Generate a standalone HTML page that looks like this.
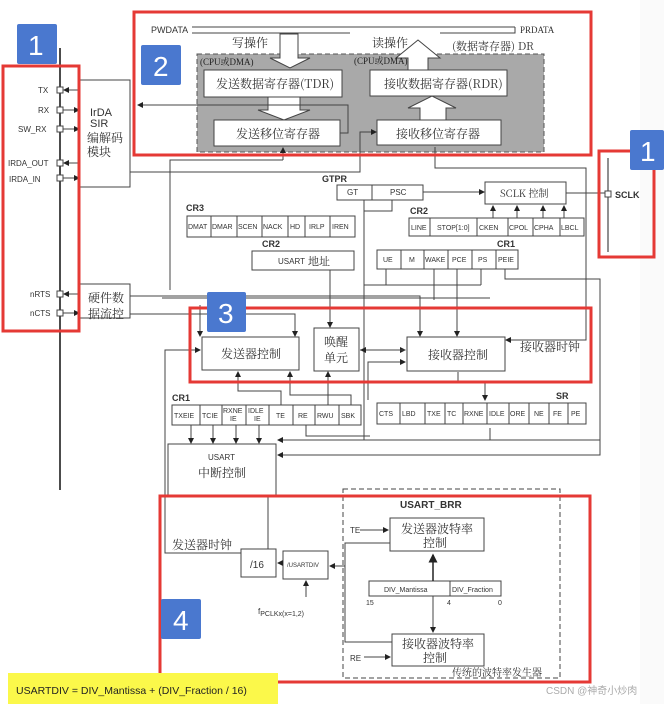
<!DOCTYPE html>
<html><head><meta charset="utf-8"><style>
html,body{margin:0;padding:0;background:#fff;}
svg{display:block;}
text{font-family:"Liberation Sans","Noto Sans CJK SC",sans-serif;fill:#333;}
.s{font-size:8px;}
.m{font-size:11px;}
.c{font-family:"Noto Serif CJK SC","Liberation Serif",serif;font-size:12px;fill:#333;}
.b{fill:#fff;stroke:#444;stroke-width:1;}
.l{stroke:#444;stroke-width:1;fill:none;}
.red{fill:none;stroke:#e53935;stroke-width:3;}
.badge{fill:#4a78cf;}
.bt{font-size:28px;fill:#fff;}
</style></head><body>
<svg width="664" height="704" viewBox="0 0 664 704" xmlns="http://www.w3.org/2000/svg">
<defs><marker id="a" markerWidth="6" markerHeight="6" refX="5" refY="3" orient="auto"><path d="M0,0 L6,3 L0,6z" fill="#222"/></marker></defs>
<rect x="0" y="0" width="664" height="704" fill="#fff"/>
<rect x="640" y="0" width="24" height="704" fill="#fafafa"/>

<!-- pin bus -->
<line x1="60" y1="48" x2="60" y2="490" stroke="#111" stroke-width="1.5"/>
<g class="s">
<text x="38" y="93">TX</text><text x="38" y="113">RX</text><text x="18" y="132">SW_RX</text>
<text x="8" y="166">IRDA_OUT</text><text x="9" y="182">IRDA_IN</text>
<text x="30" y="297">nRTS</text><text x="30" y="316">nCTS</text>
</g>
<g class="b"><rect x="57" y="87" width="6" height="6"/><rect x="57" y="107" width="6" height="6"/><rect x="57" y="126" width="6" height="6"/><rect x="57" y="160" width="6" height="6"/><rect x="57" y="175" width="6" height="6"/><rect x="57" y="291" width="6" height="6"/><rect x="57" y="310" width="6" height="6"/></g>
<g class="l"><line x1="79" y1="90" x2="64" y2="90" marker-end="url(#a)"/><line x1="63" y1="110" x2="79" y2="110" marker-end="url(#a)"/><line x1="63" y1="129" x2="79" y2="129" marker-end="url(#a)"/><line x1="79" y1="163" x2="64" y2="163" marker-end="url(#a)"/><line x1="63" y1="178" x2="79" y2="178" marker-end="url(#a)"/><line x1="79" y1="294" x2="64" y2="294" marker-end="url(#a)"/><line x1="63" y1="313" x2="79" y2="313" marker-end="url(#a)"/></g>
<path class="l" d="M79,80 H130 V187 H79"/>
<text class="m" x="90" y="116">IrDA</text><text class="m" x="90" y="127">SIR</text>
<text class="c" x="87" y="142">编解码</text><text class="c" x="87" y="156">模块</text>
<path class="l" d="M79,284 H130 V318 H79"/>
<text class="c" x="88" y="302">硬件数</text><text class="c" x="88" y="318">据流控</text>

<!-- top data section -->
<rect x="197" y="54" width="347" height="98" fill="#a9a9a9" stroke="#555" stroke-dasharray="5,3"/>
<text class="s" x="151" y="33" style="font-size:9px">PWDATA</text>
<text x="520" y="33" style="font-size:9px;font-family:'Liberation Serif',serif">PRDATA</text>
<path class="l" d="M192,27 H515 M192,33 H350"/>
<path class="l" d="M515,27 V33 H440"/>
<path d="M280,34 V58 H270 L290,68 L310,58 H298 V34 z" fill="#fff" stroke="#444"/>
<path d="M408,70 V58 H396 L418,40 L440,58 H428 V70 z" fill="#fff" stroke="#444"/>
<text class="c" x="232" y="47">写操作</text>
<text class="c" x="372" y="47">读操作</text>
<text class="c" x="452" y="50" style="font-size:11px">(数据寄存器) DR</text>
<text x="200" y="65" style="font-size:9px;font-family:'Liberation Serif','Noto Serif CJK SC',serif;fill:#222">(CPU或DMA)</text>
<text x="354" y="64" style="font-size:9px;font-family:'Liberation Serif','Noto Serif CJK SC',serif;fill:#222">(CPU或DMA)</text>
<rect class="b" x="204" y="70" width="138" height="27"/>
<text class="c" x="216" y="88">发送数据寄存器(TDR)</text>
<rect class="b" x="370" y="70" width="137" height="26"/>
<text class="c" x="384" y="88">接收数据寄存器(RDR)</text>
<path d="M268,97 V110 H258 L284,120 L310,110 H300 V97 z" fill="#fff" stroke="#444"/>
<path d="M420,120 V108 H408 L432,96 L456,108 H446 V120 z" fill="#fff" stroke="#444"/>
<rect class="b" x="214" y="120" width="126" height="26"/>
<text class="c" x="236" y="138">发送移位寄存器</text>
<rect class="b" x="377" y="120" width="124" height="25"/>
<text class="c" x="396" y="138">接收移位寄存器</text>
<path class="l" d="M340,133 H348 V105 H138" marker-end="url(#a)"/>
<path class="l" d="M130,172 H360 V132 H376" marker-end="url(#a)"/>
<path class="l" d="M283,160 V148" marker-end="url(#a)"/>
<path class="l" d="M170,290 V160 H283"/>
<path class="l" d="M435,147 V168 H586 V340 H506" marker-end="url(#a)"/>

<!-- GTPR -->
<text x="322" y="182" style="font-size:9px;font-weight:bold">GTPR</text>
<rect class="b" x="337" y="185" width="35" height="15"/><rect class="b" x="372" y="185" width="51" height="15"/>
<text class="s" x="347" y="195">GT</text><text class="s" x="390" y="195">PSC</text>
<path class="l" d="M423,192 H484" marker-end="url(#a)"/>
<rect class="b" x="485" y="182" width="81" height="22"/>
<text class="c" x="500" y="197" style="font-size:10px">SCLK 控制</text>
<path class="l" d="M566,193 H605"/>
<path class="l" d="M364,200 V211 H392 V200 M364,211 V440"/>

<!-- SCLK -->
<line x1="608" y1="158" x2="608" y2="252" stroke="#222"/>
<rect class="b" x="605" y="191" width="6" height="6"/>
<text x="615" y="198" style="font-size:9px;font-weight:bold">SCLK</text>

<!-- CR3 -->
<text x="186" y="211" style="font-size:9px;font-weight:bold">CR3</text>
<g class="b"><rect x="187" y="216" width="24" height="21"/><rect x="211" y="216" width="26" height="21"/><rect x="237" y="216" width="25" height="21"/><rect x="262" y="216" width="26" height="21"/><rect x="288" y="216" width="17" height="21"/><rect x="305" y="216" width="25" height="21"/><rect x="330" y="216" width="25" height="21"/></g>
<g style="font-size:7px"><text x="188" y="229">DMAT</text><text x="212" y="229">DMAR</text><text x="238" y="229">SCEN</text><text x="263" y="229">NACK</text><text x="290" y="229">HD</text><text x="309" y="229">IRLP</text><text x="332" y="229">IREN</text></g>

<!-- CR2 right -->
<text x="410" y="214" style="font-size:9px;font-weight:bold">CR2</text>
<g class="b"><rect x="409" y="218" width="21" height="18"/><rect x="430" y="218" width="47" height="18"/><rect x="477" y="218" width="31" height="18"/><rect x="508" y="218" width="25" height="18"/><rect x="533" y="218" width="27" height="18"/><rect x="560" y="218" width="24" height="18"/></g>
<g style="font-size:7px"><text x="411" y="230">LINE</text><text x="437" y="230">STOP[1:0]</text><text x="479" y="230">CKEN</text><text x="509" y="230">CPOL</text><text x="534" y="230">CPHA</text><text x="561" y="230">LBCL</text></g>
<g class="l"><path d="M493,218 V206" marker-end="url(#a)"/><path d="M517,218 V206" marker-end="url(#a)"/><path d="M543,218 V206" marker-end="url(#a)"/><path d="M564,218 V206" marker-end="url(#a)"/></g>

<!-- CR2 left -->
<text x="262" y="247" style="font-size:9px;font-weight:bold">CR2</text>
<rect class="b" x="252" y="251" width="102" height="19"/>
<text x="278" y="264" style="font-size:8px">USART</text><text class="c" x="308" y="265" style="font-size:11px">地址</text>
<path class="l" d="M330,270 V298 M162,298 H490 M330,298 V327" marker-end="url(#a)"/>

<!-- CR1 top -->
<text x="497" y="247" style="font-size:9px;font-weight:bold">CR1</text>
<g class="b"><rect x="377" y="250" width="24" height="19"/><rect x="401" y="250" width="23" height="19"/><rect x="424" y="250" width="24" height="19"/><rect x="448" y="250" width="24" height="19"/><rect x="472" y="250" width="24" height="19"/><rect x="496" y="250" width="22" height="19"/></g>
<g style="font-size:7px"><text x="383" y="262">UE</text><text x="409" y="262">M</text><text x="425" y="262">WAKE</text><text x="452" y="262">PCE</text><text x="478" y="262">PS</text><text x="498" y="262">PEIE</text></g>
<path class="l" d="M386,269 V285 M364,285 H481 M481,269 V285 M434,269 V300 M457,269 V336" marker-end="url(#a)"/>
<path class="l" d="M505,269 V279 H600 V440 H470"/>
<path class="l" d="M130,296 H420 V336" marker-end="url(#a)"/>
<path class="l" d="M130,314 H295 V336" marker-end="url(#a)"/>
<path class="l" d="M200,305 V336" marker-end="url(#a)"/>

<!-- section 3 blocks -->
<rect class="b" x="202" y="337" width="97" height="33"/>
<text class="c" x="221" y="358">发送器控制</text>
<rect class="b" x="314" y="328" width="45" height="43"/>
<text class="c" x="324" y="346">唤醒</text><text class="c" x="324" y="362">单元</text>
<rect class="b" x="407" y="337" width="98" height="34"/>
<text class="c" x="428" y="359">接收器控制</text>
<text class="c" x="520" y="351">接收器时钟</text>
<path class="l" d="M360,350 H405" marker-end="url(#a)"/><path class="l" d="M405,350 H361" marker-end="url(#a)"/>
<path class="l" d="M165,440 V350 H200" marker-end="url(#a)"/>
<path class="l" d="M368,400 V362 H405" marker-end="url(#a)"/>
<path class="l" d="M281,405 V391 H238 V372" marker-end="url(#a)"/>
<path class="l" d="M351,405 V395 H290 V372" marker-end="url(#a)"/>
<path class="l" d="M328,405 V372" marker-end="url(#a)"/>
<path class="l" d="M458,372 V383 H250 M458,383 H485 V400" marker-end="url(#a)"/>

<!-- CR1 bottom -->
<text x="172" y="401" style="font-size:9px;font-weight:bold">CR1</text>
<g class="b"><rect x="172" y="405" width="28" height="20"/><rect x="200" y="405" width="22" height="20"/><rect x="222" y="405" width="24" height="20"/><rect x="246" y="405" width="23" height="20"/><rect x="269" y="405" width="24" height="20"/><rect x="293" y="405" width="22" height="20"/><rect x="315" y="405" width="24" height="20"/><rect x="339" y="405" width="22" height="20"/></g>
<g style="font-size:7px"><text x="174" y="418">TXEIE</text><text x="202" y="418">TCIE</text><text x="223" y="413">RXNE</text><text x="230" y="421">IE</text><text x="248" y="413">IDLE</text><text x="254" y="421">IE</text><text x="276" y="418">TE</text><text x="298" y="418">RE</text><text x="317" y="418">RWU</text><text x="341" y="418">SBK</text></g>
<g class="l"><path d="M191,425 V443" marker-end="url(#a)"/><path d="M213,425 V443" marker-end="url(#a)"/><path d="M236,425 V443" marker-end="url(#a)"/><path d="M259,425 V443" marker-end="url(#a)"/></g>
<path class="l" d="M306,425 V436 H370"/>
<path class="l" d="M490,428 V440 H278" marker-end="url(#a)"/>
<path class="l" d="M600,440 V455 H278" marker-end="url(#a)"/>

<!-- SR -->
<text x="556" y="399" style="font-size:9px;font-weight:bold">SR</text>
<g class="b"><rect x="377" y="403" width="23" height="21"/><rect x="400" y="403" width="25" height="21"/><rect x="425" y="403" width="20" height="21"/><rect x="445" y="403" width="18" height="21"/><rect x="463" y="403" width="24" height="21"/><rect x="487" y="403" width="22" height="21"/><rect x="509" y="403" width="20" height="21"/><rect x="529" y="403" width="20" height="21"/><rect x="549" y="403" width="19" height="21"/><rect x="568" y="403" width="18" height="21"/></g>
<g style="font-size:7px"><text x="379" y="416">CTS</text><text x="402" y="416">LBD</text><text x="427" y="416">TXE</text><text x="447" y="416">TC</text><text x="464" y="416">RXNE</text><text x="489" y="416">IDLE</text><text x="510" y="416">ORE</text><text x="534" y="416">NE</text><text x="553" y="416">FE</text><text x="571" y="416">PE</text></g>

<!-- interrupt -->
<path class="l" d="M168,495 V444 H276 V495"/>
<text x="208" y="460" style="font-size:8px">USART</text>
<text class="c" x="198" y="477">中断控制</text>

<!-- section 4 -->
<rect x="343" y="489" width="217" height="189" fill="none" stroke="#444" stroke-dasharray="5,3"/>
<text x="400" y="508" style="font-size:10px;font-weight:bold">USART_BRR</text>
<rect class="b" x="390" y="518" width="94" height="33"/>
<text class="c" x="401" y="533">发送器波特率</text><text class="c" x="423" y="547">控制</text>
<text x="350" y="533" style="font-size:8px">TE</text><path class="l" d="M360,530 H388" marker-end="url(#a)"/>
<rect class="b" x="369" y="581" width="81" height="15"/><rect class="b" x="450" y="581" width="51" height="15"/>
<text x="384" y="592" style="font-size:7px">DIV_Mantissa</text><text x="452" y="592" style="font-size:7px">DIV_Fraction</text>
<g style="font-size:7px"><text x="366" y="605">15</text><text x="447" y="605">4</text><text x="498" y="605">0</text></g>
<path d="M433,581 V555" stroke="#222" stroke-width="1.5" marker-end="url(#a)"/>
<path class="l" d="M433,596 V632" marker-end="url(#a)"/>
<rect class="b" x="392" y="634" width="92" height="32"/>
<text class="c" x="402" y="648">接收器波特率</text><text class="c" x="423" y="662">控制</text>
<text x="350" y="661" style="font-size:8px">RE</text><path class="l" d="M364,657 H390" marker-end="url(#a)"/>
<path class="l" d="M390,543 H345 V642 H392 M345,566 H330" marker-end="url(#a)"/>
<text class="c" x="452" y="676" style="font-size:10px">传统的波特率发生器</text>
<rect class="b" x="283" y="551" width="45" height="28"/>
<text x="287" y="567" style="font-size:6px">/USARTDIV</text>
<rect class="b" x="241" y="549" width="35" height="28"/>
<text x="250" y="568" style="font-size:10px">/16</text>
<path class="l" d="M283,563 H278" marker-end="url(#a)"/>
<path class="l" d="M306,597 V581" marker-end="url(#a)"/>
<text x="258" y="614" style="font-size:8px">f<tspan style="font-size:7px" dy="2">PCLKx(x=1,2)</tspan></text>
<path class="l" d="M241,553 H165 V440 M268,495 V549"/>
<text class="c" x="172" y="549">发送器时钟</text>

<!-- red frames -->
<rect class="red" x="3" y="66" width="76" height="265"/>
<rect class="red" x="134" y="12" width="457" height="143"/>
<rect class="red" x="599" y="151" width="55" height="106"/>
<rect class="red" x="190" y="308" width="401" height="74"/>
<rect class="red" x="160" y="496" width="430" height="186"/>

<!-- badges -->
<rect class="badge" x="17" y="24" width="40" height="40" rx="2"/><text class="bt" x="28" y="55">1</text>
<rect class="badge" x="141" y="45" width="40" height="40" rx="2"/><text class="bt" x="153" y="76">2</text>
<rect class="badge" x="630" y="130" width="34" height="40" rx="2"/><text class="bt" x="640" y="161">1</text>
<rect class="badge" x="207" y="292" width="39" height="40" rx="2"/><text class="bt" x="218" y="323">3</text>
<rect class="badge" x="161" y="599" width="40" height="40" rx="2"/><text class="bt" x="173" y="630">4</text>

<!-- formula -->
<rect x="8" y="673" width="270" height="31" fill="#fbf84a"/>
<text x="16" y="694" style="font-size:10.5px;fill:#222">USARTDIV = DIV_Mantissa + (DIV_Fraction / 16)</text>
<text x="546" y="694" style="font-size:10px;fill:#aaa">CSDN @神奇小炒肉</text>
</svg>
</body></html>
